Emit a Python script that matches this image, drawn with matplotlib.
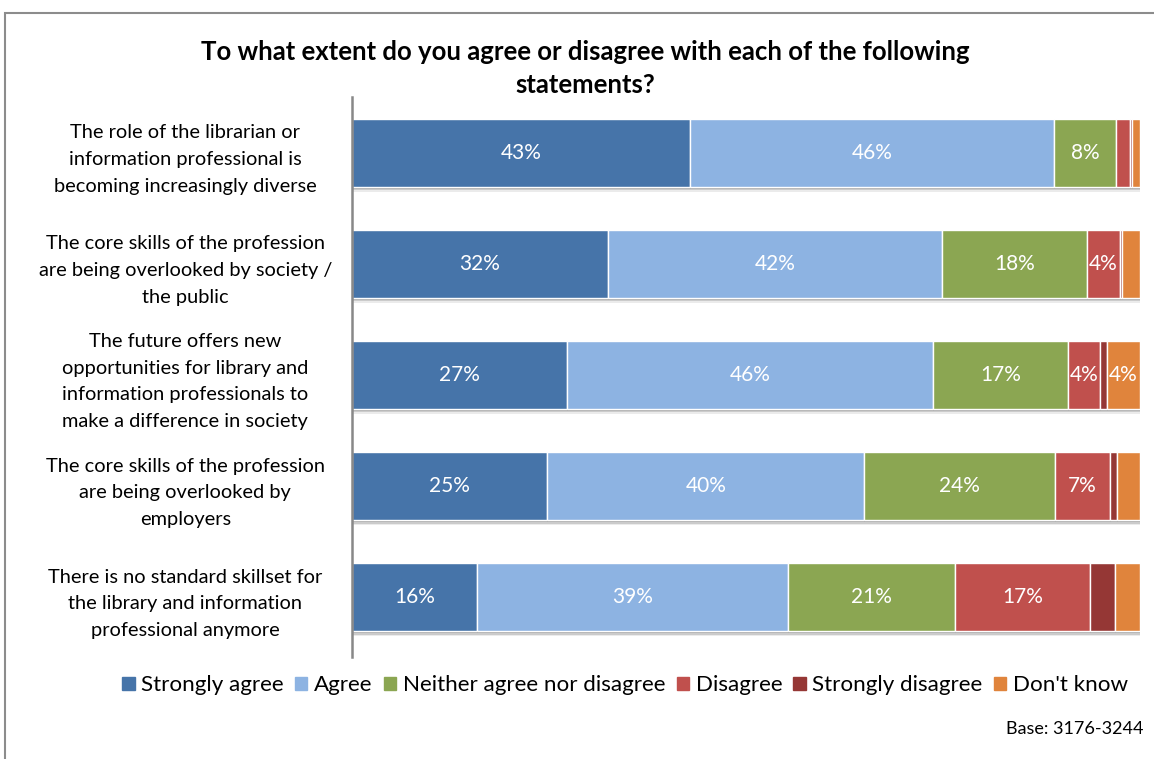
import matplotlib
matplotlib.use('Agg')
import matplotlib.pyplot as plt
import matplotlib.patches as mpatches
from matplotlib import patheffects as pe

statements = [
    'The role of the librarian or\ninformation professional is\nbecoming increasingly diverse',
    'The core skills of the profession\nare being overlooked by society /\nthe public',
    'The future offers new\nopportunities for library and\ninformation professionals to\nmake a difference in society',
    'The core skills of the profession\nare being overlooked by\nemployers',
    'There is no standard skillset for\nthe library and information\nprofessional anymore',
]
answers = ['Strongly agree', 'Agree', 'Neither agree nor disagree',
           'Disagree', 'Strongly disagree', "Don't know"]
strongly_agree = [42.9, 32.5, 27.3, 24.8, 15.9]
agree = [46.2, 42.4, 46.4, 40.2, 39.4]
neither = [7.8, 18.4, 17.2, 24.2, 21.2]
disagree = [1.8, 4.1, 4.0, 7.0, 17.1]
strongly_disagree = [0.3, 0.3, 0.9, 0.9, 3.2]
dont_know = [1.0, 2.3, 4.2, 2.9, 3.2]
colors = ['#4674A9', '#8DB3E2', '#8BA652', '#C0504D', '#953735', '#E0843C']

plt.rcParams['font.family'] = ['Lato', 'DejaVu Sans']

fig = plt.figure(figsize=(11.54, 7.59), dpi=100)
ax = fig.add_axes([0.305, 0.134, 0.683, 0.738])

series = [strongly_agree, agree, neither, disagree, strongly_disagree, dont_know]
ypos = list(range(len(statements)))
left = [0.0] * len(statements)
# soft drop shadow under each bar
shadow = [pe.SimplePatchShadow(offset=(0, -3.2), shadow_rgbFace='#b0b0b0', alpha=0.25),
          pe.SimplePatchShadow(offset=(0, -2.2), shadow_rgbFace='#909090', alpha=0.35),
          pe.SimplePatchShadow(offset=(0, -1.2), shadow_rgbFace='#808080', alpha=0.45),
          pe.Normal()]
handles = []
for name, vals, col in zip(answers, series, colors):
    bars = ax.barh(ypos, vals, left=left, height=0.615, color=col,
                   edgecolor='white', linewidth=1.0)
    for b in bars:
        b.set_path_effects(shadow)
    handles.append(mpatches.Patch(color=col, label=name))
    for y, v, l in zip(ypos, vals, left):
        if v >= 3.5:
            ax.text(l + v / 2, y, '%d%%' % round(v), ha='center', va='center',
                    color='white', fontsize=15)
    left = [l + v for l, v in zip(left, vals)]

ax.set_xlim(0, 100)
ax.set_ylim(4.54, -0.505)
ax.set_yticks(ypos)
ax.set_yticklabels(statements, ha='center', fontsize=14.4, linespacing=1.68)
ax.tick_params(axis='y', length=0, pad=120)
ax.set_xticks([])
for s in ['top', 'right', 'bottom']:
    ax.spines[s].set_visible(False)
ax.spines['left'].set_color('#888888')
ax.spines['left'].set_linewidth(1.8)

fig.text(0.507, 0.91, 'To what extent do you agree or disagree with each of the following\nstatements?',
         ha='center', va='center', fontsize=18.5, fontweight='bold', linespacing=1.45)

fig.legend(handles=handles, loc='center left', bbox_to_anchor=(0.106, 0.097), ncol=6,
           frameon=False, fontsize=16.1, handlelength=0.55, handleheight=0.55,
           handletextpad=0.3, columnspacing=0.5, borderaxespad=0, borderpad=0)

fig.text(0.991, 0.039, 'Base: 3176-3244', ha='right', va='center', fontsize=13)

fig.patches.append(mpatches.Rectangle((0.0043, -0.02), 1.1, 1.003, transform=fig.transFigure,
                                      fill=False, edgecolor='#8c8c8c', linewidth=1.5))

fig.savefig('out.png', dpi=100)
